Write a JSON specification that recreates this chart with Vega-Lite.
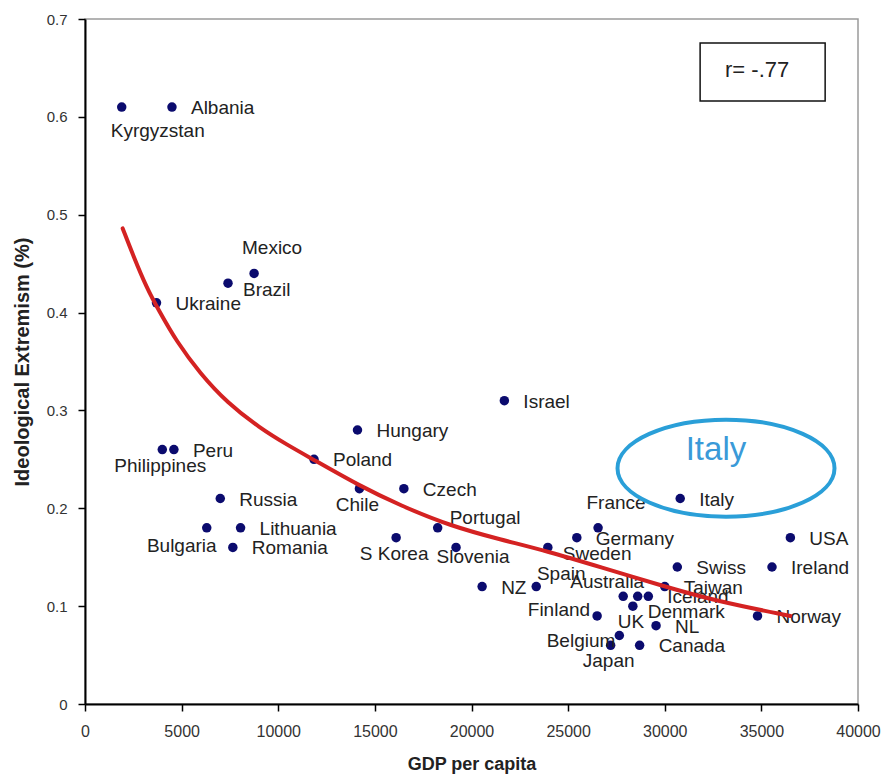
{
  "$schema": "https://vega.github.io/schema/vega-lite/v6.json",
  "width": 773,
  "height": 685,
  "autosize": "none",
  "padding": {"left": 85, "top": 19, "right": 26, "bottom": 72},
  "background": "white",
  "config": {
    "font": "Liberation Sans",
    "view": {"stroke": "#9a9a9a", "strokeWidth": 1.5}
  },
  "datasets": {
    "countries": [
      {"country": "Kyrgyzstan", "gdp": 1900, "ext": 0.61},
      {"country": "Albania", "gdp": 4500, "ext": 0.61},
      {"country": "Mexico", "gdp": 8750, "ext": 0.44},
      {"country": "Brazil", "gdp": 7400, "ext": 0.43},
      {"country": "Ukraine", "gdp": 3700, "ext": 0.41},
      {"country": "Israel", "gdp": 21700, "ext": 0.31},
      {"country": "Hungary", "gdp": 14100, "ext": 0.28},
      {"country": "Philippines", "gdp": 4000, "ext": 0.26},
      {"country": "Peru", "gdp": 4600, "ext": 0.26},
      {"country": "Poland", "gdp": 11850, "ext": 0.25},
      {"country": "Chile", "gdp": 14200, "ext": 0.22},
      {"country": "Czech", "gdp": 16500, "ext": 0.22},
      {"country": "Russia", "gdp": 7000, "ext": 0.21},
      {"country": "Italy", "gdp": 30800, "ext": 0.21},
      {"country": "France", "gdp": 26550, "ext": 0.18},
      {"country": "Germany", "gdp": 25450, "ext": 0.17},
      {"country": "Sweden", "gdp": 23950, "ext": 0.16},
      {"country": "Portugal", "gdp": 18250, "ext": 0.18},
      {"country": "Bulgaria", "gdp": 6300, "ext": 0.18},
      {"country": "Lithuania", "gdp": 8050, "ext": 0.18},
      {"country": "Romania", "gdp": 7650, "ext": 0.16},
      {"country": "S Korea", "gdp": 16100, "ext": 0.17},
      {"country": "Slovenia", "gdp": 19200, "ext": 0.16},
      {"country": "NZ", "gdp": 20550, "ext": 0.12},
      {"country": "Spain", "gdp": 23350, "ext": 0.12},
      {"country": "Australia", "gdp": 27850, "ext": 0.11},
      {"country": "Denmark", "gdp": 28600, "ext": 0.11},
      {"country": "Iceland", "gdp": 29150, "ext": 0.11},
      {"country": "UK", "gdp": 28350, "ext": 0.10},
      {"country": "Finland", "gdp": 26500, "ext": 0.09},
      {"country": "NL", "gdp": 29550, "ext": 0.08},
      {"country": "Belgium", "gdp": 27650, "ext": 0.07},
      {"country": "Japan", "gdp": 27200, "ext": 0.06},
      {"country": "Canada", "gdp": 28700, "ext": 0.06},
      {"country": "Taiwan", "gdp": 30000, "ext": 0.12},
      {"country": "Swiss", "gdp": 30650, "ext": 0.14},
      {"country": "Ireland", "gdp": 35550, "ext": 0.14},
      {"country": "USA", "gdp": 36500, "ext": 0.17},
      {"country": "Norway", "gdp": 34800, "ext": 0.09}
    ],
    "trend": [
      {"gdp": 1950, "ext": 0.486},
      {"gdp": 2500, "ext": 0.458},
      {"gdp": 3200, "ext": 0.425},
      {"gdp": 3800, "ext": 0.403},
      {"gdp": 4750, "ext": 0.370},
      {"gdp": 5950, "ext": 0.338},
      {"gdp": 7350, "ext": 0.308},
      {"gdp": 9050, "ext": 0.282},
      {"gdp": 10450, "ext": 0.265},
      {"gdp": 11800, "ext": 0.250},
      {"gdp": 14200, "ext": 0.223},
      {"gdp": 16300, "ext": 0.203},
      {"gdp": 18900, "ext": 0.182},
      {"gdp": 21500, "ext": 0.168},
      {"gdp": 23950, "ext": 0.156},
      {"gdp": 26650, "ext": 0.140},
      {"gdp": 30000, "ext": 0.120},
      {"gdp": 32700, "ext": 0.105},
      {"gdp": 36500, "ext": 0.090}
    ]
  },
  "encoding": {
    "x": {
      "field": "gdp", "type": "quantitative",
      "scale": {"domain": [0, 40000], "nice": false},
      "axis": {
        "title": "GDP per capita",
        "values": [0, 5000, 10000, 15000, 20000, 25000, 30000, 35000, 40000],
        "format": "d", "grid": false,
        "domainColor": "#000", "domainWidth": 2,
        "tickColor": "#000", "tickWidth": 1.5, "tickSize": 7,
        "labelFont": "Liberation Sans", "labelFontSize": 16, "labelColor": "#333",
        "labelPadding": 12, "labelFlush": false,
        "titleFont": "Liberation Sans", "titleFontSize": 18, "titleFontWeight": "bold",
        "titleColor": "#222", "titlePadding": 16
      }
    },
    "y": {
      "field": "ext", "type": "quantitative",
      "scale": {"domain": [0, 0.7], "nice": false},
      "axis": {
        "title": "Ideological Extremism (%)",
        "values": [0, 0.1, 0.2, 0.3, 0.4, 0.5, 0.6, 0.7],
        "format": ".1~f", "grid": false,
        "domainColor": "#000", "domainWidth": 2,
        "tickColor": "#000", "tickWidth": 1.5, "tickSize": 7,
        "labelFont": "Liberation Sans", "labelFontSize": 15, "labelColor": "#333",
        "labelPadding": 11, "labelFlush": false,
        "titleFont": "Liberation Sans", "titleFontSize": 20, "titleFontWeight": "bold",
        "titleColor": "#222", "titlePadding": 14
      }
    }
  },
  "layer": [
    {
      "data": {"name": "countries"},
      "mark": {"type": "circle", "size": 90, "color": "#0b0b6e", "opacity": 1}
    },
    {
      "data": {"name": "countries"},
      "transform": [{"filter": {"field": "country", "oneOf": ["Albania", "Ukraine", "Israel", "Hungary", "Peru", "Poland", "Czech", "Russia", "Italy", "Lithuania", "Romania", "NZ", "Germany", "Swiss", "Ireland", "USA", "Taiwan", "Norway", "Iceland", "NL", "Canada"]}}],
      "mark": {"type": "text", "align": "left", "baseline": "middle", "dx": 19, "dy": 1, "fontSize": 19, "color": "#222"},
      "encoding": {"text": {"field": "country"}}
    },
    {
      "data": {"name": "countries"},
      "transform": [{"filter": {"field": "country", "oneOf": ["Brazil", "Sweden"]}}],
      "mark": {"type": "text", "align": "left", "baseline": "middle", "dx": 15, "dy": 7, "fontSize": 19, "color": "#222"},
      "encoding": {"text": {"field": "country"}}
    },
    {
      "data": {"name": "countries"},
      "transform": [{"filter": {"field": "country", "equal": "Denmark"}}],
      "mark": {"type": "text", "align": "left", "baseline": "middle", "dx": 10, "dy": 16, "fontSize": 19, "color": "#222"},
      "encoding": {"text": {"field": "country"}}
    },
    {
      "data": {"name": "countries"},
      "transform": [{"filter": {"field": "country", "equal": "Portugal"}}],
      "mark": {"type": "text", "align": "left", "baseline": "middle", "dx": 12, "dy": -10, "fontSize": 19, "color": "#222"},
      "encoding": {"text": {"field": "country"}}
    },
    {
      "data": {"name": "countries"},
      "transform": [{"filter": {"field": "country", "oneOf": ["Philippines", "Chile", "S Korea", "Japan", "UK"]}}],
      "mark": {"type": "text", "align": "center", "baseline": "middle", "dx": -2, "dy": 16, "fontSize": 19, "color": "#222"},
      "encoding": {"text": {"field": "country"}}
    },
    {
      "data": {"name": "countries"},
      "transform": [{"filter": {"field": "country", "equal": "Slovenia"}}],
      "mark": {"type": "text", "align": "center", "baseline": "middle", "dx": 17, "dy": 10, "fontSize": 19, "color": "#222"},
      "encoding": {"text": {"field": "country"}}
    },
    {
      "data": {"name": "countries"},
      "transform": [{"filter": {"field": "country", "equal": "Kyrgyzstan"}}],
      "mark": {"type": "text", "align": "center", "baseline": "middle", "dx": 36, "dy": 24, "fontSize": 19, "color": "#222"},
      "encoding": {"text": {"field": "country"}}
    },
    {
      "data": {"name": "countries"},
      "transform": [{"filter": {"field": "country", "oneOf": ["Mexico", "France"]}}],
      "mark": {"type": "text", "align": "center", "baseline": "middle", "dx": 18, "dy": -25, "fontSize": 19, "color": "#222"},
      "encoding": {"text": {"field": "country"}}
    },
    {
      "data": {"name": "countries"},
      "transform": [{"filter": {"field": "country", "equal": "Spain"}}],
      "mark": {"type": "text", "align": "center", "baseline": "middle", "dx": 25, "dy": -13, "fontSize": 19, "color": "#222"},
      "encoding": {"text": {"field": "country"}}
    },
    {
      "data": {"name": "countries"},
      "transform": [{"filter": {"field": "country", "equal": "Australia"}}],
      "mark": {"type": "text", "align": "center", "baseline": "middle", "dx": -16, "dy": -14, "fontSize": 19, "color": "#222"},
      "encoding": {"text": {"field": "country"}}
    },
    {
      "data": {"name": "countries"},
      "transform": [{"filter": {"field": "country", "equal": "Finland"}}],
      "mark": {"type": "text", "align": "right", "baseline": "middle", "dx": -7, "dy": -6, "fontSize": 19, "color": "#222"},
      "encoding": {"text": {"field": "country"}}
    },
    {
      "data": {"name": "countries"},
      "transform": [{"filter": {"field": "country", "equal": "Belgium"}}],
      "mark": {"type": "text", "align": "right", "baseline": "middle", "dx": -4, "dy": 5, "fontSize": 19, "color": "#222"},
      "encoding": {"text": {"field": "country"}}
    },
    {
      "data": {"name": "countries"},
      "transform": [{"filter": {"field": "country", "equal": "Bulgaria"}}],
      "mark": {"type": "text", "align": "center", "baseline": "middle", "dx": -25, "dy": 18, "fontSize": 19, "color": "#222"},
      "encoding": {"text": {"field": "country"}}
    },
    {
      "data": {"name": "trend"},
      "mark": {"type": "line", "color": "#d42222", "strokeWidth": 4, "interpolate": "basis", "strokeCap": "round"}
    },
    {
      "data": {"values": [{"gdp": 33170, "ext": 0.241}]},
      "mark": {"type": "point", "shape": "M-1,0A1,0.447,0,1,1,1,0A1,0.447,0,1,1,-1,0Z", "size": 47089, "filled": false, "stroke": "#2a9fd8", "strokeWidth": 4, "opacity": 1}
    },
    {
      "data": {"values": [{"gdp": 32650, "ext": 0.2596, "note": "Italy"}]},
      "mark": {"type": "text", "align": "center", "baseline": "middle", "fontSize": 33, "color": "#3a9ad8"},
      "encoding": {"text": {"field": "note"}}
    },
    {
      "data": {"values": [{"gdp": 31830, "gdp2": 38300, "ext": 0.6755, "ext2": 0.6162}]},
      "mark": {"type": "rect", "fill": "white", "stroke": "#111", "strokeWidth": 1.5},
      "encoding": {"x2": {"field": "gdp2"}, "y2": {"field": "ext2"}}
    },
    {
      "data": {"values": [{"gdp": 34780, "ext": 0.648, "note": "r= -.77"}]},
      "mark": {"type": "text", "align": "center", "baseline": "middle", "fontSize": 22, "color": "#222"},
      "encoding": {"text": {"field": "note"}}
    }
  ]
}
